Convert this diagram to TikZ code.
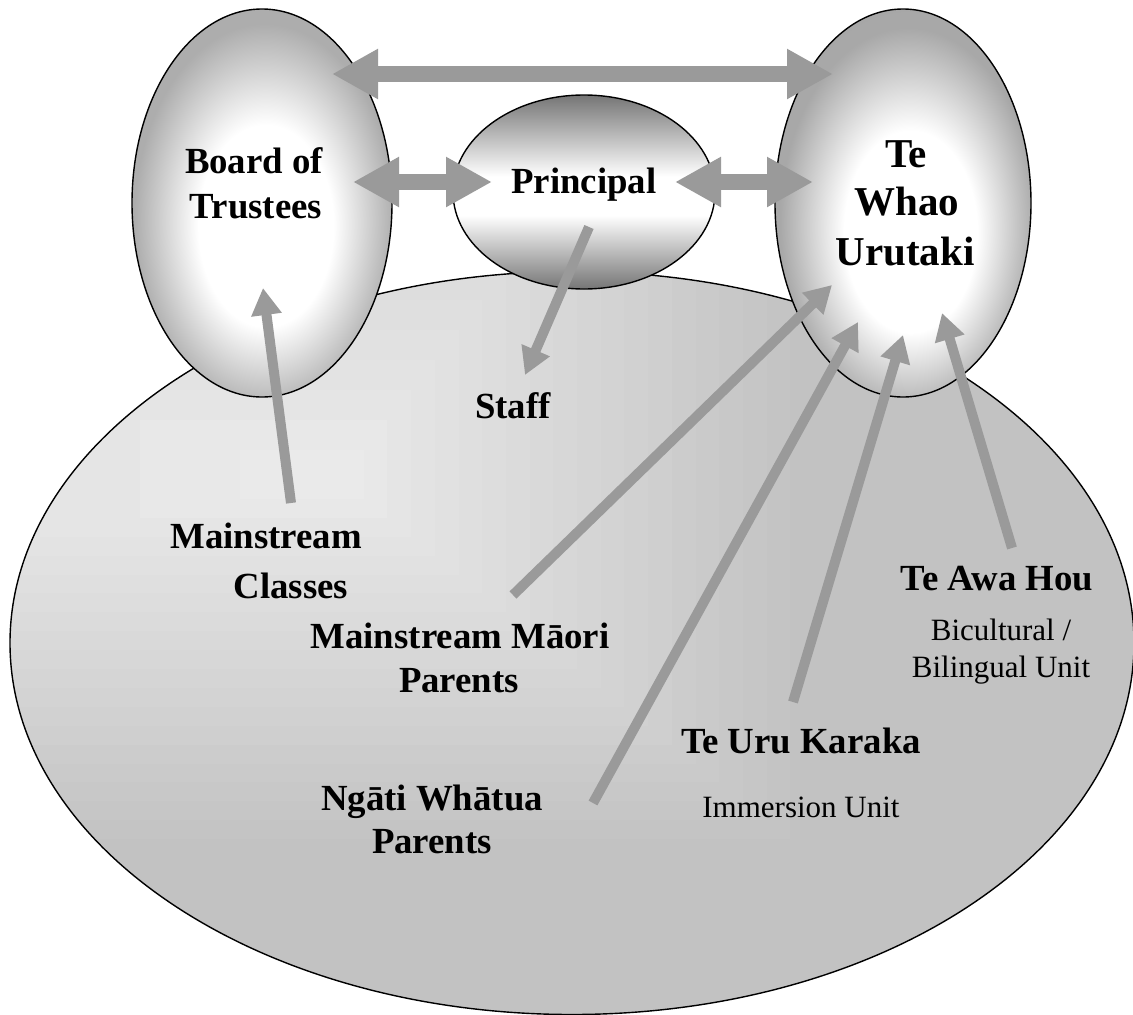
\documentclass[tikz,border=0pt]{standalone}
\usepackage{fontspec}
\setmainfont{Liberation Serif}
\usetikzlibrary{arrows.meta,shapes.geometric}
\definecolor{arrowgray}{RGB}{154,154,154}
\pgfdeclareradialshading{boardshade}{\pgfpoint{1bp}{-4bp}}{color(0bp)=(white); color(13bp)=(white); color(25bp)=(black!32); color(50bp)=(black!36)}
\pgfdeclareradialshading{whaoshade}{\pgfpoint{2bp}{-5bp}}{color(0bp)=(white); color(13bp)=(white); color(25bp)=(black!34); color(50bp)=(black!38)}
\pgfdeclareverticalshading{princshade}{100bp}{color(0bp)=(black!54); color(25bp)=(black!54); color(44bp)=(white); color(54bp)=(white); color(75bp)=(black!54); color(100bp)=(black!54)}
\tikzset{
  oval/.style={ellipse, draw=black, line width=1.4pt, inner sep=0pt, outer sep=0pt},
  grayarrow/.style={draw=arrowgray, line width=10pt, -{Triangle[length=27pt,width=29pt]}},
  dblarrow/.style={draw=arrowgray, line width=16pt, {Triangle[length=46pt,width=47pt]}-{Triangle[length=46pt,width=47pt]}},
  lbl/.style={font=\bfseries\fontsize{36.8}{44}\selectfont, anchor=base, inner sep=0pt},
  biglbl/.style={font=\bfseries\fontsize{41}{49}\selectfont, anchor=base, inner sep=0pt},
  sublbl/.style={font=\fontsize{31}{37}\selectfont, anchor=base, inner sep=0pt}
}
\begin{document}
\begin{tikzpicture}[x=1pt,y=-1pt]
\useasboundingbox (0,0) rectangle (1133,1015);
% stepped gradient inside the big community ellipse
\begin{scope}
  \clip (572,643) ellipse [x radius=562, y radius=371.5];
  \fill[black!24] (-100,-100) rectangle (1300,1200);
  \foreach \i in {20,19,...,1}{
    \pgfmathsetmacro{\pct}{7.5+16.5*\i/20}
    \fill[black!\pct] ({340-\i*100},{480-\i*30}) rectangle ({340+\i*23.7},{480+\i*18.9});
  }
\end{scope}
\node[oval, minimum width=1124pt, minimum height=743pt] (community) at (572,643) {};
% top ellipses
\node[oval, shading=boardshade, minimum width=260pt, minimum height=388pt] (board) at (262,203) {};
\node[oval, shading=princshade, minimum width=262pt, minimum height=194pt] (principal) at (584,192) {};
\node[oval, shading=whaoshade, minimum width=256pt, minimum height=388pt] (whao) at (903,203) {};
% arrow end points
\coordinate (topL) at (332,74);   \coordinate (topR) at (833,74);
\coordinate (bpL) at (353,182);   \coordinate (bpR) at (492,182);
\coordinate (ptL) at (675,182);   \coordinate (ptR) at (813,182);
\coordinate (staffS) at (589,227); \coordinate (staffE) at (525,375);
\coordinate (clsS) at (291,503);  \coordinate (clsE) at (263,288);
\coordinate (mmS) at (513,595);   \coordinate (mmE) at (832,285);
\coordinate (ngS) at (593,803);   \coordinate (ngE) at (858,322);
\coordinate (ukS) at (793,702);   \coordinate (ukE) at (903,335);
\coordinate (ahS) at (1012,548);  \coordinate (ahE) at (942,313);
% arrows
\draw[dblarrow] (topL) -- (topR);
\draw[dblarrow] (bpL) -- (bpR);
\draw[dblarrow] (ptL) -- (ptR);
\draw[grayarrow] (staffS) -- (staffE);
\draw[grayarrow] (clsS) -- (clsE);
\draw[grayarrow] (mmS) -- (mmE);
\draw[grayarrow] (ngS) -- (ngE);
\draw[grayarrow] (ukS) -- (ukE);
\draw[grayarrow] (ahS) -- (ahE);
% labels
\node[lbl] (bt1) at (254,173) {Board of};
\node[lbl] (bt2) at (256,218) {Trustees};
\node[lbl] (pr) at (584,193) {Principal};
\node[biglbl] (tw1) at (906,167) {Te};
\node[biglbl] (tw2) at (907,215) {Whao};
\node[biglbl] (tw3) at (905,265) {Urutaki};
\node[lbl] (st) at (513,418) {Staff};
\node[lbl] (mc1) at (266,548) {Mainstream};
\node[lbl] (mc2) at (291,598) {Classes};
\node[lbl] (mm1) at (460,648) {Mainstream Māori};
\node[lbl] (mm2) at (459,692) {Parents};
\node[lbl] (ng1) at (432,810) {Ngāti Whātua};
\node[lbl] (ng2) at (432,853) {Parents};
\node[lbl] (uk1) at (801,753) {Te Uru Karaka};
\node[sublbl] (uk2) at (801,817) {Immersion Unit};
\node[lbl] (ah1) at (997,590) {Te Awa Hou};
\node[sublbl] (ah2) at (1001,640) {Bicultural /};
\node[sublbl] (ah3) at (1001,677) {Bilingual Unit};
\end{tikzpicture}
\end{document}
